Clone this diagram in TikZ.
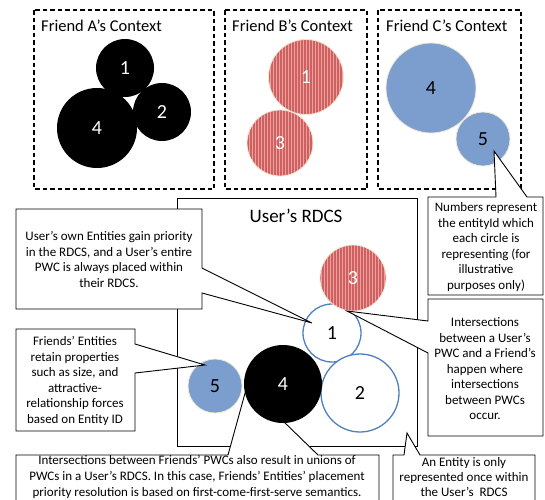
\documentclass[tikz,border=0pt]{standalone}
\usepackage{fontspec}
\setmainfont{Carlito}
\usetikzlibrary{patterns}

\definecolor{stripered}{RGB}{206,96,96}
\definecolor{stripelight}{RGB}{236,160,160}
\definecolor{entityblue}{RGB}{124,158,206}
\definecolor{pwcblue}{RGB}{79,129,189}
\definecolor{rimcream}{RGB}{238,232,212}

\tikzset{
  context/.style={draw, line width=1.2pt, dash pattern=on 4.5pt off 3pt},
  ctitle/.style={anchor=base west, inner sep=0pt, font=\fontsize{16.5}{18}\selectfont},
  entity/.style={circle, inner sep=0pt, font=\fontsize{20}{22}\selectfont},
  blackent/.style={entity, fill=black, text=white},
  redent/.style={entity, preaction={fill=stripered}, pattern=vertical lines,
    pattern color=stripelight, draw=rimcream, line width=0.8pt, text=white},
  blueent/.style={entity, fill=entityblue, draw=rimcream, line width=0.8pt},
  ownent/.style={entity, draw=pwcblue, line width=1.3pt, fill=white},
  callbox/.style={draw, fill=white, line width=0.9pt, line join=miter},
  calltext/.style={align=center, inner sep=0pt, font=\fontsize{13}{15.5}\selectfont},
  widetext/.style={calltext, font=\fontsize{13}{16}\selectfont}
}

\begin{document}
\begin{tikzpicture}[x=1pt, y=-1pt]
  \clip (0,0) rectangle (545,499);
  \fill[white] (0,0) rectangle (545,499);

  % Friends' contexts
  \draw[context] (34,10) rectangle (214,189);
  \draw[context] (225,10) rectangle (367,189);
  \draw[context] (378,10) rectangle (521,189);
  \node[ctitle] (titleA) at (41,31) {Friend A’s Context};
  \node[ctitle] (titleB) at (232,31) {Friend B’s Context};
  \node[ctitle] (titleC) at (386,31) {Friend C’s Context};

  % Friend A
  \node[blackent, minimum size=58pt] (a1) at (125,68) {1};
  \node[blackent, minimum size=58pt] (a2) at (162,112) {2};
  \node[blackent, minimum size=80pt] (a4) at (97,128) {4};

  % Friend B
  \node[redent, minimum size=75pt] (b1) at (306,77) {1};
  \node[redent, minimum size=66pt] (b3) at (280,143) {3};

  % Friend C
  \node[blueent, minimum size=90pt] (c4) at (431,88) {4};
  \node[blueent, minimum size=54pt] (c5) at (483,139) {5};

  % User's RDCS
  \draw[line width=0.9pt] (177,198) rectangle (417,446);
  \node[anchor=base, font=\fontsize{19}{22}\selectfont] (rdcs) at (296,222) {User’s RDCS};

  % callout behind the entities
  \draw[callbox] (16,455) -- (228,455) -- (247,386) -- (318,455) -- (379,455)
    -- (379,520) -- (16,520) -- cycle;

  % entities placed in the RDCS
  \node[ownent, minimum size=58pt] (r1) at (332,333) {1};
  \node[redent, minimum size=66pt] (r3) at (353,278) {3};
  \node[ownent, minimum size=78pt] (r2) at (360,393) {2};
  \node[blackent, minimum size=78pt] (r4) at (283,384) {4};
  \node[blueent, minimum size=54pt] (r5) at (215,386) {5};

  % callouts
  \draw[callbox] (16,209) -- (202,209) -- (202,268) -- (312,323) -- (202,293)
    -- (202,309) -- (16,309) -- cycle;
  \draw[callbox] (16,329) -- (135,329) -- (135,344) -- (205,365) -- (135,373)
    -- (135,431) -- (16,431) -- cycle;
  \draw[callbox] (428,197) -- (496,197) -- (494,151) -- (527,197) -- (543,197)
    -- (543,295) -- (428,295) -- cycle;
  \draw[callbox] (428,299) -- (543,299) -- (543,436) -- (428,436) -- (428,353)
    -- (347,311) -- (428,321) -- cycle;
  \draw[callbox] (393,455) -- (404,455) -- (407,433) -- (420,455) -- (535,455)
    -- (535,520) -- (393,520) -- cycle;

  \node[calltext] (ownnote) at (109,259.5) {User’s own Entities gain priority\\in the RDCS, and a User’s entire\\PWC is always placed within\\their RDCS.};
  \node[calltext] (friendnote) at (75,381) {Friends’ Entities\\retain properties\\such as size, and\\attractive-\\relationship forces\\based on Entity ID};
  \node[calltext] (numnote) at (486,247) {Numbers represent\\the entityId which\\each circle is\\representing (for\\illustrative\\purposes only)};
  \node[calltext] (isectnote) at (485,369) {Intersections\\between a User’s\\PWC and a Friend’s\\happen where\\intersections\\between PWCs\\occur.};
  \node[widetext] (unionnote) at (197,477) {Intersections between Friends’ PWCs also result in unions of\\PWCs in a User’s RDCS. In this case, Friends’ Entities’ placement\\priority resolution is based on first-come-first-serve semantics.};
  \node[calltext, anchor=north, font=\fontsize{13}{15}\selectfont] (oncenote) at (464,457.5) {An Entity is only\\represented once within\\the User’s\ \ RDCS};
\end{tikzpicture}
\end{document}
